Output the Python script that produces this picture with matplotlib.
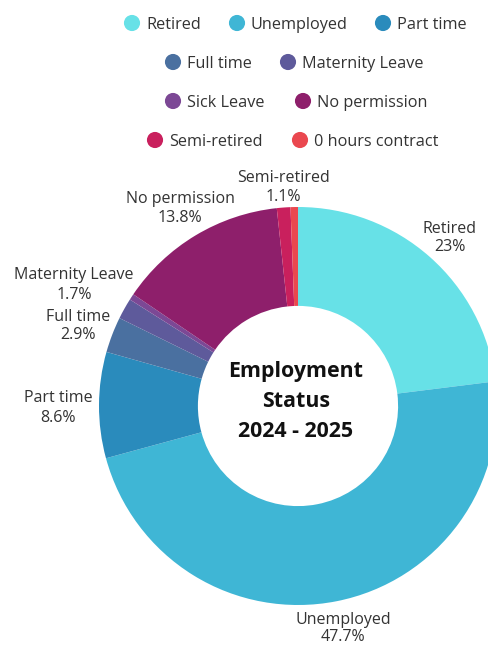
import matplotlib
matplotlib.use("Agg")
import matplotlib.pyplot as plt

categories = ["Retired", "Unemployed", "Part time", "Full time", "Maternity Leave",
              "Sick Leave", "No permission", "Semi-retired", "0 hours contract"]
values = [23.0, 47.7, 8.6, 2.9, 1.7, 0.5, 13.8, 1.1, 0.6]
pct_labels = ["23%", "47.7%", "8.6%", "2.9%", "1.7%", "", "13.8%", "1.1%", ""]
colors = ["#67E1E7", "#3FB6D5", "#2A8BBC", "#4A70A0", "#5E5A9B",
          "#7C4895", "#8E1F6B", "#C9205D", "#EA484F"]
center_title = ["Employment", "Status", "2024 - 2025"]

W, H = 489, 648
fig = plt.figure(figsize=(W / 100, H / 100), dpi=100)
ax = fig.add_axes([0, 0, 1, 1])

def Y(py):
    return H - py

cx, cy, R = 298, 406, 199
ax.pie(values, colors=colors, startangle=90, counterclock=False,
       center=(cx, Y(cy)), radius=R, frame=True,
       wedgeprops=dict(width=R * 0.497, linewidth=0))
ax.set_xlim(0, W)
ax.set_ylim(0, H)
ax.set_aspect("equal")
ax.axis("off")

font = "Open Sans"
tc = "#333333"
dy = 1.5  # small text baseline correction

# legend (manual layout)
legend_pos = [
    (132, 23), (237, 23), (383, 23),
    (173, 62), (288, 62),
    (173, 101), (303, 101),
    (155, 140), (300, 140),
]
for (mx, my), lab, col in zip(legend_pos, categories, colors):
    ax.scatter([mx], [Y(my)], s=135, color=col, edgecolors="none", zorder=3)
    ax.text(mx + 14, Y(my + dy), lab, ha="left", va="center", fontsize=11.7,
            family=font, color=tc)

# slice labels
label_pos = {
    "Retired": (450, 227, 245),
    "Unemployed": (343, 618, 636),
    "Part time": (58, 397, 416),
    "Full time": (78, 315, 333),
    "Maternity Leave": (74, 273, 293),
    "No permission": (180, 197, 216),
    "Semi-retired": (283, 176, 195),
}
for lab, pct in zip(categories, pct_labels):
    if lab in label_pos:
        x, y1, y2 = label_pos[lab]
        ax.text(x, Y(y1 + dy), lab, ha="center", va="center", fontsize=11.5,
                family=font, color=tc)
        ax.text(x, Y(y2 + dy), pct, ha="center", va="center", fontsize=11.5,
                family=font, color=tc)

for txt, y in zip(center_title, [370, 400, 430]):
    ax.text(296, Y(y + dy), txt, ha="center", va="center", fontsize=15.4,
            fontweight="bold", family=font, color="#111111")

fig.savefig("out.png", dpi=100, facecolor="white")
